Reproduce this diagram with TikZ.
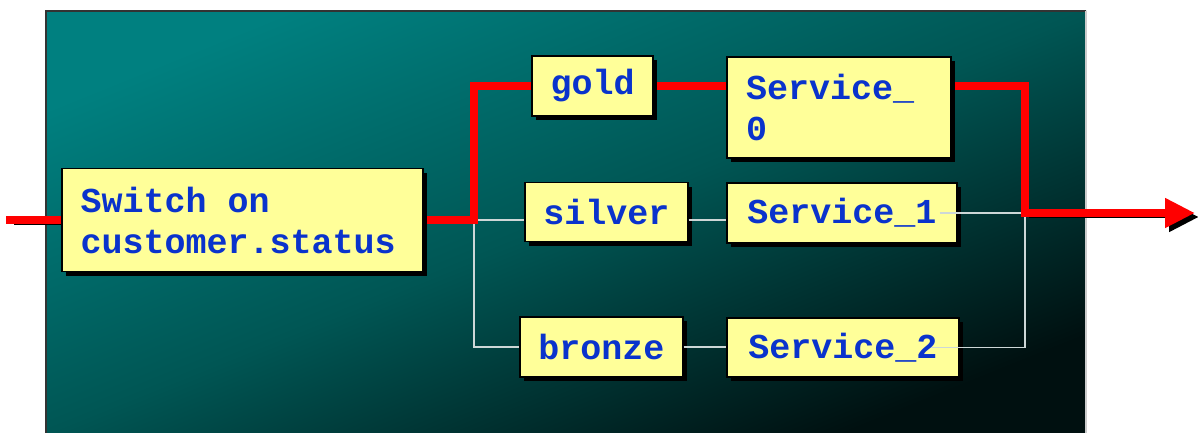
\documentclass[tikz,border=0pt]{standalone}
\usepackage{fontspec}
\setmonofont{Liberation Mono}
\usetikzlibrary{arrows.meta,shadows}
\definecolor{bgTeal}{RGB}{0,128,128}
\definecolor{bgMid}{RGB}{0,86,84}
\definecolor{bgDeep}{RGB}{0,16,16}
\definecolor{boxYellow}{RGB}{255,255,153}
\definecolor{labelBlue}{RGB}{10,51,204}
\definecolor{wireGray}{RGB}{205,215,215}
\pgfdeclarelayer{panel}
\pgfdeclarelayer{wires}
\pgfsetlayers{panel,wires,main}
\tikzset{
  casebox/.style={draw=black, line width=0.6pt, fill=boxYellow, text=labelBlue,
    font=\ttfamily\bfseries\fontsize{17.5}{20.5}\selectfont, inner sep=0pt,
    drop shadow={shadow xshift=2.2pt, shadow yshift=-2.2pt, fill=black, opacity=1}},
  leftbox/.style={casebox, align=flush left},
  hotpath/.style={line width=4pt, red, line cap=rect},
  hotshadow/.style={preaction={draw=black, transform canvas={xshift=2pt, yshift=-2pt}}},
  coldpath/.style={line width=0.8pt, wireGray},
}

\begin{document}
\begin{tikzpicture}[x=0.5pt, y=-0.5pt]
    \useasboundingbox (0,0) rectangle (1198,433);
    % dark teal panel behind the flow
    \begin{pgfonlayer}{panel}
      \shade[top color=bgTeal, bottom color=bgDeep, middle color=bgMid, shading angle=22]
        (46,11) rectangle (1086,433);
      \draw[line width=1.2pt, black!80] (46,433) -- (46,11) -- (1086,11);
      \draw[line width=0.6pt, black!20] (1086,11) -- (1086,433);
    \end{pgfonlayer}
    % fixed points of the flow
    \coordinate (entry) at (10,220);
    \coordinate (split) at (474,220);
    \coordinate (merge) at (1025,213);
    \coordinate (exit) at (1195,213);
    % the switch and its cases
    \node[leftbox, minimum width=180.5pt, minimum height=51.5pt, text width=162pt]
      (switch) at (242.5,220) {Switch on\\customer.status};
    \node[casebox, minimum width=60.5pt, minimum height=30pt] (gold) at (592.5,86) {gold};
    \node[casebox, minimum width=81.5pt, minimum height=29.5pt] (silver) at (606.5,212) {silver};
    \node[casebox, minimum width=81.5pt, minimum height=30pt] (bronze) at (601.5,347) {bronze};
    % services behind each case
    \node[leftbox, minimum width=112pt, minimum height=50.5pt, text width=93pt]
      (svc0) at (839,107.5) {Service\_\\0};
    \node[casebox, minimum width=115pt, minimum height=30pt] (svc1) at (842,213) {Service\_1};
    \node[casebox, minimum width=116pt, minimum height=29.5pt] (svc2) at (843,347.5) {Service\_2};
    % branches not taken
    \draw[coldpath] ([xshift=2pt]split) -- (split -| silver.west);
    \draw[coldpath] ([yshift=-2pt]split) |- (bronze.west);
    \draw[coldpath] (split -| silver.east) -- (split -| svc1.west);
    \draw[coldpath] (bronze.east) -- (bronze.east -| svc2.west);
    \draw[coldpath] ([xshift=-9pt]svc1.east) -- ([xshift=-2pt]merge);
    \draw[coldpath] ([yshift=-2pt]merge) |- ([xshift=-14.5pt]svc2.east);
    % the branch taken
    \begin{pgfonlayer}{wires}
      \draw[hotpath, hotshadow] (entry) -- (switch.west);
      \draw[hotpath] (switch.east) -- (split) |- (gold.west);
      \draw[hotpath] (gold.east) -- (gold.east -| svc0.west);
      \draw[hotpath] (gold.east -| svc0.east) -| (merge);
      \draw[hotpath, hotshadow, -{Triangle[length=15pt, width=14pt]}] (merge) -- (exit);
    \end{pgfonlayer}
\end{tikzpicture}
\end{document}
